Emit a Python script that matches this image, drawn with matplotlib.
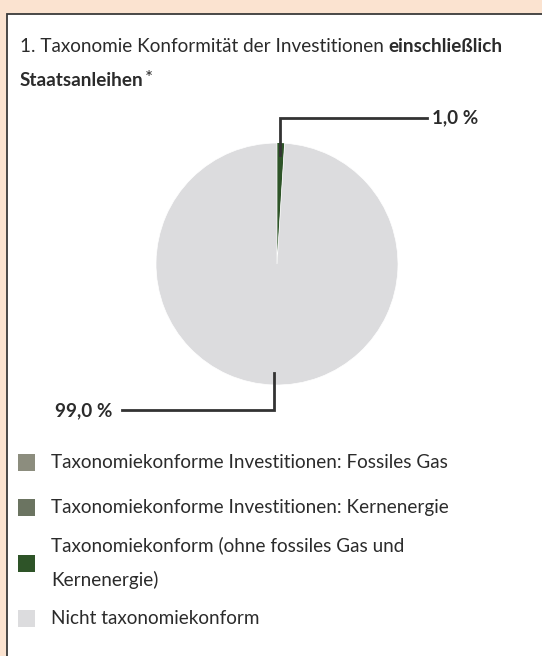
import matplotlib
matplotlib.use("Agg")
import matplotlib.pyplot as plt
import numpy as np
from matplotlib.patches import Rectangle

# data
labels = ["Taxonomiekonforme Investitionen: Fossiles Gas",
          "Taxonomiekonforme Investitionen: Kernenergie",
          "Taxonomiekonform (ohne fossiles Gas und\nKernenergie)",
          "Nicht taxonomiekonform"]
values = [0.0, 0.0, 1.0, 99.0]
colors = ["#8c8d7e", "#6b7461", "#2e5428", "#dcdcde"]
value_labels = ["", "", "1,0 %", "99,0 %"]

title_normal = "1. Taxonomie Konformität der Investitionen "
title_bold = "einschließlich"
title_line2 = "Staatsanleihen"

W, H = 542, 656
plt.rcParams['font.family'] = ['Lato', 'DejaVu Sans']
txt_color = "#2b2b2b"
line_color = "#333333"
fs = 13.6

fig = plt.figure(figsize=(W / 100, H / 100), dpi=100)
fig.patch.set_facecolor("#fbe3d0")

def px(x, y):
    return x / W, 1 - y / H

# white panel with border
fig.patches.append(Rectangle(px(6.5, 700), 600 / W, (700 - 13.5) / H,
                             transform=fig.transFigure, facecolor="white",
                             edgecolor="#3a3a3a", linewidth=1.3, zorder=-10))

# title
x0, y0 = px(20, 47)
t1 = fig.text(x0, y0, title_normal, fontsize=fs, color=txt_color, va="center")
fig.canvas.draw()
r = fig.canvas.get_renderer()
bb = t1.get_window_extent(r)
fig.text(bb.x1 / W, y0, title_bold, fontsize=fs, color=txt_color,
         fontweight="bold", va="center")
x2, y2 = px(20, 80)
t2 = fig.text(x2, y2, title_line2, fontsize=fs, color=txt_color,
              fontweight="bold", va="center")
bb2 = t2.get_window_extent(r)
fig.text(bb2.x1 / W + 1 / W, y2 + 2 / H, "*", fontsize=fs, color=txt_color,
         va="center")

# pie
cx, cy, rad = 277, 264, 121
ax = fig.add_axes([(cx - rad) / W, (H - cy - rad) / H, 2 * rad / W, 2 * rad / H])
wedges, _ = ax.pie(values, colors=colors, startangle=90, counterclock=False,
                   wedgeprops=dict(linewidth=0))
# thin white seam on the big slice only
wedges[3].set_edgecolor("white")
wedges[3].set_linewidth(0.5)
ax.set_xlim(-1, 1)
ax.set_ylim(-1, 1)
ax.set_aspect("equal")
ax.axis("off")

# leader lines from wedge mid angles
for w, lab in zip(wedges, value_labels):
    if not lab:
        continue
    ang = np.deg2rad((w.theta1 + w.theta2) / 2)
    sx, sy = 0.9 * np.cos(ang), 0.9 * np.sin(ang)
    if sy > 0:
        ey, ex = 1.21, 1.24
        ax.plot([sx, sx, ex], [sy, ey, ey], color=line_color, lw=2, clip_on=False,
                solid_joinstyle="miter")
        ax.text(ex + 0.04, ey, lab, fontsize=fs, fontweight="bold",
                color=txt_color, va="center", ha="left")
    else:
        ey, ex = -1.21, -1.28
        ax.plot([sx, sx, ex], [sy, ey, ey], color=line_color, lw=2, clip_on=False,
                solid_joinstyle="miter")
        ax.text(ex - 0.08, ey, lab, fontsize=fs, fontweight="bold",
                color=txt_color, va="center", ha="right")

# legend
rows_y = [462, 507, 563, 618]
for lab, col, yy in zip(labels, colors, rows_y):
    fig.patches.append(Rectangle(px(18, yy + 8.5), 17 / W, 17 / H,
                                 transform=fig.transFigure, facecolor=col,
                                 edgecolor="none"))
    lx, ly = px(51, yy)
    fig.text(lx, ly, lab, fontsize=fs, color=txt_color, va="center",
             linespacing=2.1)

plt.savefig("out.png", dpi=100, facecolor=fig.get_facecolor())
